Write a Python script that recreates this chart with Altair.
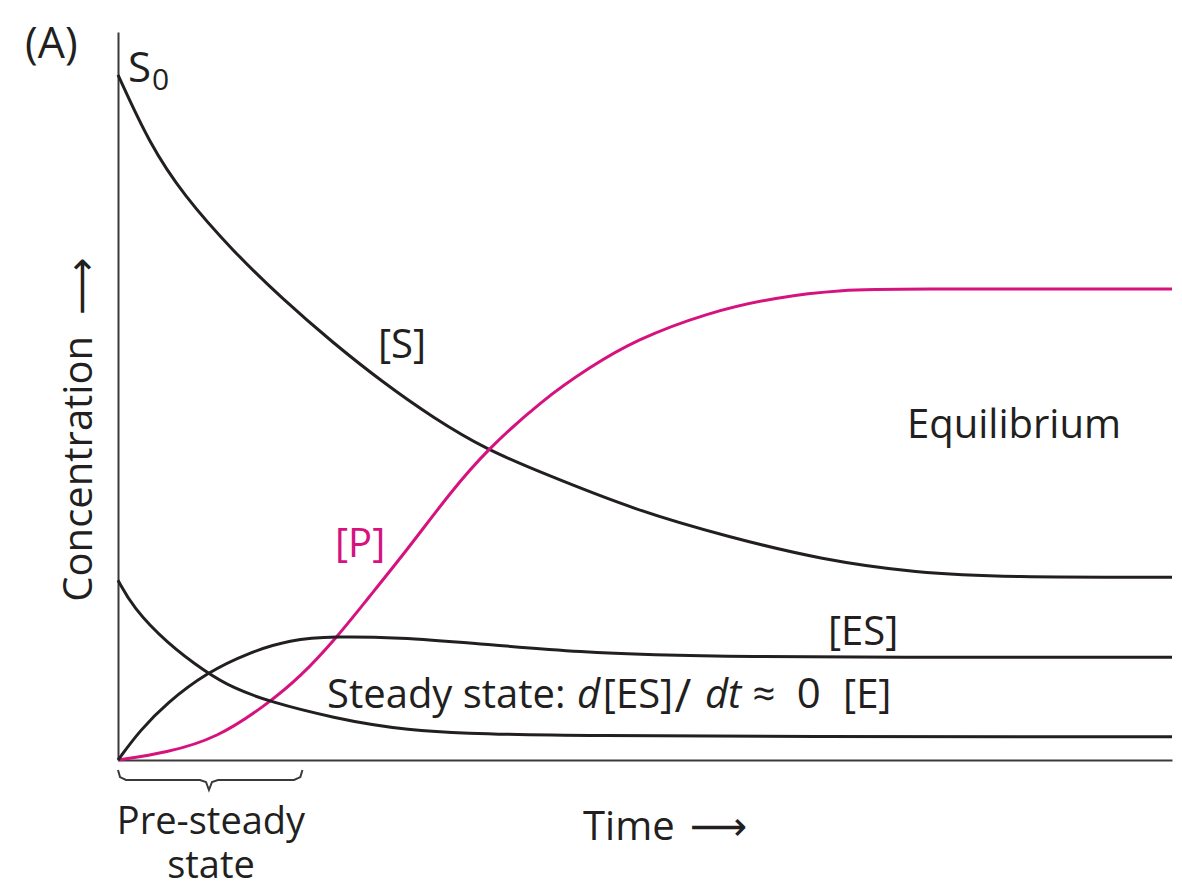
import altair as alt
import pandas as pd

# ---- data (time and concentration in arbitrary units) ----
time_S = [0, 3.0, 6.2, 10.9, 15.7, 20.4, 25.1, 29.9, 35.0, 40.3, 49.1, 58.0, 66.8, 75.7, 84.5, 100]
conc_S = [94.1, 84.6, 77.6, 69.9, 63.2, 57.3, 51.9, 47.0, 42.6, 39.4, 34.3, 30.6, 27.5, 25.7, 25.1, 25.1]

time_P = [0, 4.6, 9.4, 14.1, 17.3, 20.8, 23.6, 27.4, 31.5, 35.0, 40.3, 44.8, 49.1, 55.8, 62.4, 69.1, 73.4, 100]
conc_P = [0, 1.0, 3.0, 7.6, 11.4, 16.9, 22.0, 28.8, 36.7, 42.6, 49.5, 54.0, 57.7, 61.4, 63.6, 64.6, 64.7, 64.7]

time_ES = [0, 2.1, 4.6, 8.4, 12.5, 16.3, 20.4, 26.8, 33.2, 43.9, 54.6, 100]
conc_ES = [0, 4.1, 7.8, 12.0, 14.8, 16.5, 17.0, 16.8, 16.1, 14.8, 14.1, 14.1]

time_E = [0, 1.4, 4.6, 8.4, 10.9, 14.4, 20.4, 26.8, 37.5, 100]
conc_E = [24.7, 21.0, 16.1, 12.0, 9.9, 8.0, 5.8, 4.1, 3.2, 3.2]

# pre-steady-state brace below the time axis
brace_t = [0, 0.19, 0.76, 7.78, 8.35, 8.63, 8.92, 9.49, 16.7, 17.3, 17.5]
brace_c = [-1.37, -2.34, -2.75, -2.75, -3.02, -4.12, -3.02, -2.75, -2.75, -2.34, -1.37]

series_names = ["S", "P", "ES", "E"]
series_colors = ["#231f20", "#d6127e", "#231f20", "#231f20"]

INK = "#231f20"
MAGENTA = "#d6127e"
AXIS = "#3a3a3a"
FONT = "Open Sans"

rows = []
for name, ts, cs in [("S", time_S, conc_S), ("P", time_P, conc_P),
                     ("ES", time_ES, conc_ES), ("E", time_E, conc_E)]:
    for t, c in zip(ts, cs):
        rows.append({"series": name, "time": t, "conc": c})
curves = pd.DataFrame(rows)
brace = pd.DataFrame({"time": brace_t, "conc": brace_c})

xs = alt.Scale(domain=[0, 100], nice=False, zero=False)
ys = alt.Scale(domain=[0, 100], nice=False, zero=False)
ax = dict(domain=True, domainColor=AXIS, domainWidth=2, ticks=False, labels=False,
          grid=False, title=None)

lines = alt.Chart(curves).mark_line(strokeWidth=3, interpolate="basis").encode(
    x=alt.X("time:Q", scale=xs, axis=alt.Axis(**ax)),
    y=alt.Y("conc:Q", scale=ys, axis=alt.Axis(**ax)),
    color=alt.Color("series:N", scale=alt.Scale(domain=series_names, range=series_colors),
                    legend=None),
    detail="series:N",
)

brace_line = alt.Chart(brace).mark_line(strokeWidth=2, color=AXIS, clip=False,
                                        interpolate="linear").encode(
    x=alt.X("time:Q", scale=xs), y=alt.Y("conc:Q", scale=ys), order=alt.Order("time:Q")
)

one = pd.DataFrame({"k": [0]})


def label(text, t, c, size=40, color=INK, align="left", style="normal", angle=0,
          font=FONT, line_height=None):
    kw = dict(text=text, align=align, baseline="alphabetic", fontSize=size, color=color,
              fontStyle=style, font=font, angle=angle)
    if line_height is not None:
        kw["lineHeight"] = line_height
    return alt.Chart(one).mark_text(**kw).encode(x=alt.datum(t), y=alt.datum(c))


labels = [
    label("(A)", -8.82, 96.4, size=43),
    label("S", 0.95, 93.1, size=42),
    label("0", 3.23, 92.0, size=30),
    label("[S]", 24.67, 55.2),
    label("Equilibrium", 74.86, 44.2),
    label("[P]", 20.59, 27.9, color=MAGENTA),
    label("[ES]", 67.36, 15.8),
    label("Steady state:", 19.83, 7.14),
    label("d", 43.55, 7.14, style="italic"),
    label("[ES]", 46.0, 7.14),
    label("/", 52.8, 6.6, size=46),
    label("dt", 55.69, 7.14, style="italic"),
    label("≈", 60.2, 7.14, size=40),
    label("0", 64.4, 7.14, size=42),
    label("[E]", 68.79, 7.14),
    label("Time", 44.12, -11.0),
    label("⟶", 54.27, -11.0, font="DejaVu Sans"),
    label(["Pre-steady", "state"], 8.82, -10.1, align="center", size=38, line_height=44),
    label("Concentration", -2.47, 40.0, align="center", angle=270),
    label("⟶", -2.2, 65.1, align="center", angle=270, font="DejaVu Sans"),
]

chart = alt.layer(lines, brace_line, *labels).properties(
    width=1054, height=728,
    padding={"left": 110, "top": 24, "right": 2, "bottom": 128},
    autosize=alt.AutoSizeParams(type="none"),
    background="white",
).configure_view(stroke=None)

chart.save("out.html", embed_options={"renderer": "svg", "actions": False})
